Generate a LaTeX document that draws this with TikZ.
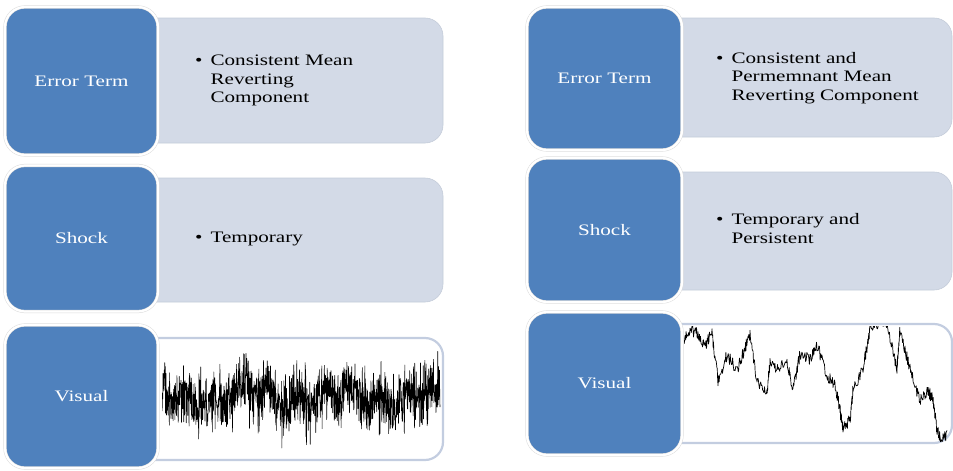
\documentclass[tikz,border=0pt]{standalone}
\usepackage{fontspec}
\setmainfont{Liberation Serif}[FakeStretch=1.32]
\definecolor{blockblue}{HTML}{4F81BD}
\definecolor{lightfill}{HTML}{D3DAE7}
\definecolor{lightedge}{HTML}{C4CCD9}
\definecolor{visedge}{HTML}{C3CDE0}
\newcommand{\bultab}[1]{\begin{tabular}{@{}l@{\hspace{8pt}}l@{}}#1\end{tabular}}
\tikzset{
  blueblock/.style={rectangle, rounded corners=20pt, fill=blockblue,
    draw=black!14, double=white, double distance=2.2pt, line width=0.5pt,
    text=white, font=\fontsize{16}{18.5}\selectfont, align=center, inner sep=0pt},
  lightblock/.style={rectangle, rounded corners=18pt, fill=lightfill,
    draw=lightedge, line width=0.6pt, inner sep=0pt},
  visblock/.style={rectangle, rounded corners=18pt, fill=white,
    draw=visedge, line width=2.2pt, inner sep=0pt},
  bullettext/.style={anchor=west, inner sep=0pt, text=black,
    font=\fontsize{16}{18.5}\selectfont},
  trace/.style={black, line width=0.6pt, line join=round}
}
\begin{document}
\begin{tikzpicture}[x=1pt,y=-1pt]
\useasboundingbox (0,0) rectangle (953,471);
% ---------------- left column: light boxes
\node[lightblock, minimum width=313pt, minimum height=125pt] (L1) at (286.5,80.5) {};
\node[lightblock, minimum width=313pt, minimum height=124pt] (L2) at (286.5,240) {};
\node[visblock, minimum width=313pt, minimum height=122pt] (L3) at (286.5,399) {};
% ---------------- right column: light boxes
\node[lightblock, minimum width=302pt, minimum height=119pt] (R1) at (801,77.5) {};
\node[lightblock, minimum width=302pt, minimum height=118pt] (R2) at (801,231) {};
\node[visblock, minimum width=302pt, minimum height=119pt] (R3) at (801,383.5) {};
% ---------------- noise traces
\pgfmathsetseed{7}
\begin{scope}
  \clip (162,341) rectangle (441,458);
  \draw[trace] plot[samples=1100, domain=162:440]
    (\x, {397 + 13*(rand+rand+rand+rand) + 7*sin(\x*4) + 5*sin(\x*13)});
\end{scope}
\begin{scope}
  \clip (684,326) rectangle (950,441);
  \draw[trace, line width=0.7pt] (683,340)
  \foreach \xa/\ya/\xb/\yb in {683/340/690/330, 690/330/697/333, 697/333/705/345,
     705/345/712/333, 712/333/718/380, 718/380/727/355, 727/355/737/370,
     737/370/744/350, 744/350/750/335, 750/335/757/380, 757/380/767/392,
     767/392/770/362, 770/362/778/370, 778/370/787/360, 787/360/793/390,
     793/390/800/355, 800/355/810/360, 810/360/817/345, 817/345/827/375,
     827/375/835/385, 835/385/840/410, 840/410/843/430, 843/430/850/420,
     850/420/853/390, 853/390/863/370, 863/370/870/330, 870/330/880/322,
     880/322/887/322, 887/322/897/370, 897/370/900/330, 900/330/910/370,
     910/370/920/400, 920/400/928/390, 928/390/933/400, 933/400/937/430,
     937/430/940/438, 940/438/947/435}
  { \foreach \k in {1,...,16} { -- ({\xa+(\xb-\xa)*\k/16}, {\ya+(\yb-\ya)*\k/16+6*rand}) } };
\end{scope}
% ---------------- blue blocks
\node[blueblock, minimum width=153pt, minimum height=148pt] (B1) at (81.5,81) {Error Term};
\node[blueblock, minimum width=153pt, minimum height=146pt] (B2) at (81.5,238.5) {Shock};
\node[blueblock, minimum width=153pt, minimum height=143pt] (B3) at (81.5,396.5) {Visual};
\node[blueblock, minimum width=155pt, minimum height=143pt] (C1) at (604.5,78.5) {Error Term};
\node[blueblock, minimum width=155pt, minimum height=144pt] (C2) at (604.5,230) {Shock};
\node[blueblock, minimum width=155pt, minimum height=143pt] (C3) at (604.5,383.5) {Visual};
% ---------------- bullet texts
\node[bullettext] (T1) at (195,80.5) {\bultab{• & Consistent Mean\\ & Reverting\\ & Component}};
\node[bullettext] (T2) at (195,239) {\bultab{• & Temporary}};
\node[bullettext] (T3) at (716,78) {\bultab{• & Consistent and\\ & Permemnant Mean\\ & Reverting Component}};
\node[bullettext] (T4) at (716,230.5) {\bultab{• & Temporary and\\ & Persistent}};
\end{tikzpicture}
\end{document}
